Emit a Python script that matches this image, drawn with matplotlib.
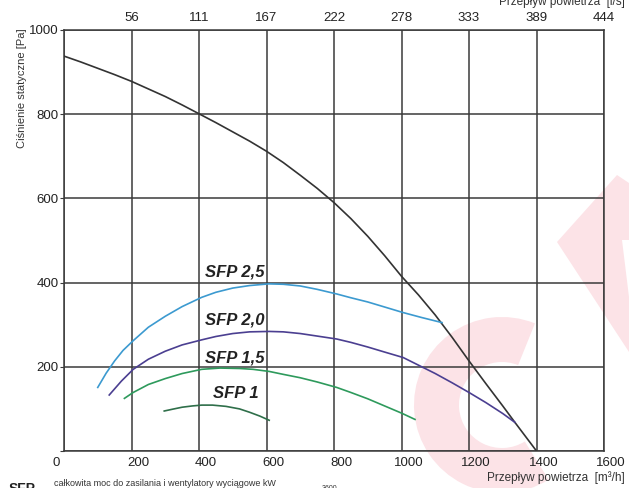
import matplotlib
matplotlib.use("Agg")
import matplotlib.pyplot as plt
from matplotlib.patches import Polygon, Wedge
from matplotlib.transforms import ScaledTranslation

plt.rcParams['font.family'] = ['Liberation Sans', 'DejaVu Sans']

# charakterystyka wentylatora [m3/h] -> [Pa]
fan_q = [0, 50, 100, 150, 200, 250, 300, 350, 400, 450, 500, 550, 600, 650, 700, 750,
         800, 850, 900, 950, 1000, 1050, 1100, 1150, 1200, 1250, 1300, 1336, 1400]
fan_p = [938, 924, 909, 894, 878, 860, 842, 822, 801, 780, 758, 736, 712, 685, 655, 624,
         590, 552, 510, 464, 415, 371, 323, 270, 214, 160, 107, 68, 0]

# krzywe SFP
sfp25_q = [100, 125, 150, 175, 205, 250, 300, 350, 408, 450, 500, 550, 607, 650, 700,
           750, 808, 850, 900, 950, 1004, 1060, 1120]
sfp25_p = [151, 185, 214, 239, 262, 294, 320, 343, 365, 377, 387, 393, 397, 396, 392,
           384, 373, 364, 354, 342, 329, 317, 305]
sfp20_q = [134, 170, 205, 250, 300, 350, 408, 450, 500, 550, 608, 650, 700, 750, 808,
           850, 900, 950, 1005, 1050, 1100, 1150, 1200, 1250, 1300, 1336]
sfp20_p = [133, 166, 194, 218, 237, 252, 264, 272, 279, 283, 284, 283, 279, 273, 266,
           258, 247, 235, 222, 204, 184, 162, 139, 115, 89, 68]
sfp15_q = [179, 205, 250, 300, 350, 408, 462, 520, 560, 608, 650, 700, 750, 808, 850,
           900, 950, 1000, 1040]
sfp15_p = [125, 139, 158, 172, 184, 194, 197, 196, 194, 189, 182, 174, 164, 151, 139,
           124, 107, 90, 75]
sfp10_q = [297, 320, 350, 380, 408, 440, 480, 520, 550, 580, 608]
sfp10_p = [95, 99, 104, 107, 109, 109, 106, 100, 92, 83, 73]

x_ticks = [0, 200, 400, 600, 800, 1000, 1200, 1400, 1600]
y_ticks = [0, 200, 400, 600, 800, 1000]
top_labels = ["56", "111", "167", "222", "278", "333", "389", "444"]

fig = plt.figure(figsize=(6.29, 4.88), dpi=100, facecolor="white")

# znak wodny w tle (wspolrzedne w pikselach)
bg = fig.add_axes([0, 0, 1, 1], zorder=0)
bg.set_xlim(0, 629)
bg.set_ylim(488, 0)
bg.axis("off")
pink = "#fce3e7"
bg.add_patch(Wedge((502, 405), 88, 58, 292, width=45, color=pink, lw=0))
bg.add_patch(Polygon([(617, 175), (557, 242), (629, 352), (629, 297), (622, 240),
                      (629, 240), (629, 183)], closed=True, color=pink, lw=0))

ax = fig.add_axes([64/629, 1-451/488, 540/629, 421/488], zorder=1)
ax.set_facecolor("none")
ax.set_xlim(0, 1600)
ax.set_ylim(0, 1000)
gc = "#3a3a3a"
ax.set_xticks(x_ticks)
ax.set_yticks(y_ticks)
ax.grid(True, color=gc, lw=1.1)
for s in ax.spines.values():
    s.set_color(gc)
    s.set_linewidth(1.1)
ax.tick_params(axis="x", length=0, pad=4, labelsize=9.5, colors="#222")
ax.tick_params(axis="y", length=3, pad=1, labelsize=9.5, colors="#222", color=gc)
ax.set_yticklabels(["", "200", "400", "600", "800", "1000"])
for lab in ax.get_xticklabels():
    dx = -8 if lab.get_text() == "0" else 7
    lab.set_transform(lab.get_transform() + ScaledTranslation(dx/100, 0, fig.dpi_scale_trans))

ax.plot(fan_q, fan_p, color="#333333", lw=1.2, zorder=3)
ax.plot(sfp25_q, sfp25_p, color="#3c9ad0", lw=1.2, zorder=3)
ax.plot(sfp20_q, sfp20_p, color="#4b3f91", lw=1.2, zorder=3)
ax.plot(sfp15_q, sfp15_p, color="#2e9a5c", lw=1.2, zorder=3)
ax.plot(sfp10_q, sfp10_p, color="#2f6f4a", lw=1.2, zorder=3)

lab_kw = dict(fontsize=12, fontweight="bold", fontstyle="italic", color="#222",
              ha="center", va="center", zorder=4)
ax.text(505, 424, "SFP 2,5", **lab_kw)
ax.text(505, 310, "SFP 2,0", **lab_kw)
ax.text(505, 221, "SFP 1,5", **lab_kw)
ax.text(510, 136, "SFP 1", **lab_kw)

top = ax.twiny()
top.set_zorder(2)
top.set_xlim(0, 1600)
top.set_xticks(x_ticks[1:])
top.set_xticklabels(top_labels)
top.tick_params(axis="x", length=0, pad=4, labelsize=9.5, colors="#222")
for s in top.spines.values():
    s.set_visible(False)

fig.text(22/629, 1-28/488, "Ciśnienie statyczne [Pa]", rotation=90, ha="center", va="top",
         fontsize=8, color="#333")
fig.text(625/629, 1-2/488, "Przepływ powietrza  [l/s]", ha="right", va="center",
         fontsize=8.5, color="#333")
fig.text(625/629, 1-478/488, "Przepływ powietrza  [m³/h]", ha="right", va="center",
         fontsize=8.5, color="#333")
fig.text(9/629, 1-489/488, "SFP", ha="left", va="center", fontsize=10, fontweight="bold",
         color="#222")
fig.text(54/629, 1-483/488, "całkowita moc do zasilania i wentylatory wyciągowe kW",
         ha="left", va="center", fontsize=6.5, color="#333")
fig.text(322/629, 1-488/488, "3600", ha="left", va="center", fontsize=5, color="#333")

fig.savefig("out.png", dpi=100, facecolor="white")
